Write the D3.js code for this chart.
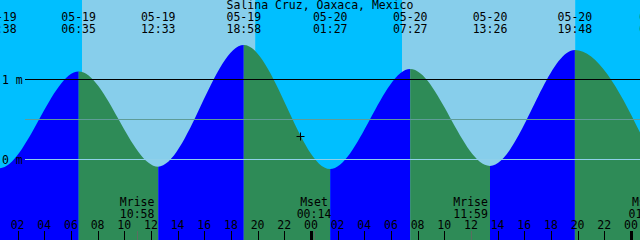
<!DOCTYPE html>
<html>
<head>
<meta charset="utf-8">
<script src="https://cdn.jsdelivr.net/npm/d3@7"></script>
<style>
  body { margin: 0; background: #fff; }
  svg { display: block; }
  text { font-family: "DejaVu Sans Mono", monospace; font-size: 11.5px; fill: #000; }
</style>
</head>
<body>
<div id="chart-area"></div>
<script>

// Data (first and last tide are just off the chart)

let stationName = "Salina Cruz, Oaxaca, Mexico";

let tideTimes = ["2024-05-18 18:20", "2024-05-19 00:38", "2024-05-19 06:35", "2024-05-19 12:33",
                 "2024-05-19 18:58", "2024-05-20 01:27", "2024-05-20 07:27", "2024-05-20 13:26",
                 "2024-05-20 19:48", "2024-05-21 01:55"];
let tideLevels = [1.40, -0.11, 1.10, -0.09, 1.43, -0.12, 1.13, -0.08, 1.37, -0.10];

let sunTimes = ["2024-05-19 06:50", "2024-05-19 19:49", "2024-05-20 06:50", "2024-05-20 19:49"]; // rise, set, rise, set

let moonTimes = ["2024-05-19 10:58", "2024-05-20 00:14", "2024-05-20 11:59", "2024-05-21 01:07"];
let moonNames = ["Mrise", "Mset", "Mrise", "Mset"];

let markLevels = [0, 0.5, 1];
let markLabels = ["0 m", "", "1 m"];

let nowTime = "2024-05-19 23:11";
let nowLevel = 0.30;

let startTime = "2024-05-19 00:41",
    endTime = "2024-05-21 00:41";


// SVG drawing area

let width = 640,
    height = 240;

let svg = d3.select("#chart-area").append("svg")
    .attr("width", width)
    .attr("height", height);

let parse = d3.timeParse("%Y-%m-%d %H:%M");
let fmtDate = d3.timeFormat("%m-%d"),
    fmtTime = d3.timeFormat("%H:%M"),
    fmtHour = d3.timeFormat("%H");

let tides = tideTimes.map((t, i) => ({time: parse(t), level: tideLevels[i]}));


// Scales

let x = d3.scaleTime()
    .domain([parse(startTime), parse(endTime)])
    .range([0, width]);

let y = d3.scaleLinear()
    .domain([0, 1])
    .range([159.5, 79.5]);


// Background: night / day bands

let sun = sunTimes.map(parse);
let bands = [];
let edges = [x.domain()[0], ...sun, x.domain()[1]];
for (let i = 0; i < edges.length - 1; i++) {
    bands.push({from: edges[i], to: edges[i + 1], day: i % 2 == 1});
}

svg.selectAll(".band")
    .data(bands)
  .enter().append("rect")
    .attr("class", "band")
    .attr("x", d => x(d.from))
    .attr("width", d => x(d.to) - x(d.from))
    .attr("y", 0)
    .attr("height", height)
    .attr("fill", d => d.day ? "#87ceeb" : "#00bfff");


// Water: area under the tide curve, coloured by rising / falling

let area = d3.area()
    .x(d => x(d.time))
    .y0(height)
    .y1(d => y(d.level))
    .curve(d3.curveMonotoneX);

svg.append("defs").append("clipPath")
    .attr("id", "water")
  .append("path")
    .attr("d", area(tides));

let segs = d3.pairs(tides);

svg.append("g")
    .attr("clip-path", "url(#water)")
  .selectAll("rect")
    .data(segs)
  .enter().append("rect")
    .attr("x", d => x(d[0].time))
    .attr("width", d => x(d[1].time) - x(d[0].time))
    .attr("y", 0)
    .attr("height", height)
    .attr("fill", d => d[1].level > d[0].level ? "#0000ff" : "#2e8b57");


// Level lines

let markColor = ["#8fd0ea", "#5e9c98", "#000"];

svg.selectAll(".mark")
    .data(markLevels)
  .enter().append("line")
    .attr("class", "mark")
    .attr("x1", 25)
    .attr("x2", width)
    .attr("y1", d => y(d))
    .attr("y2", d => y(d))
    .attr("stroke", (d, i) => markColor[i])
    .attr("stroke-width", 1);

svg.selectAll(".mark-label")
    .data(markLevels)
  .enter().append("text")
    .attr("class", "mark-label")
    .attr("x", 2)
    .attr("y", d => y(d) + 4)
    .text((d, i) => markLabels[i]);


// Title and tide event labels

svg.append("text")
    .attr("x", width / 2)
    .attr("y", 9)
    .attr("text-anchor", "middle")
    .text(stationName);

let shown = tides.filter(d => x(d.time) > -20 && x(d.time) < width + 20);

svg.selectAll(".tide-date")
    .data(shown)
  .enter().append("text")
    .attr("class", "tide-date")
    .attr("x", d => x(d.time))
    .attr("y", 21)
    .attr("text-anchor", "middle")
    .text(d => fmtDate(d.time));

svg.selectAll(".tide-time")
    .data(shown)
  .enter().append("text")
    .attr("class", "tide-time")
    .attr("x", d => x(d.time))
    .attr("y", 33)
    .attr("text-anchor", "middle")
    .text(d => fmtTime(d.time));


// Hour axis at the bottom

let hours = d3.timeHour.every(2).range(x.domain()[0], x.domain()[1]);

svg.selectAll(".hour-tick")
    .data(hours)
  .enter().append("line")
    .attr("class", "hour-tick")
    .attr("x1", d => Math.round(x(d)) + 0.5)
    .attr("x2", d => Math.round(x(d)) + 0.5)
    .attr("y1", 231)
    .attr("y2", height)
    .attr("stroke", "#000")
    .attr("stroke-width", d => d.getHours() == 0 ? 3 : 1);

svg.selectAll(".hour-label")
    .data(hours)
  .enter().append("text")
    .attr("class", "hour-label")
    .attr("x", d => x(d))
    .attr("y", 229)
    .attr("text-anchor", "middle")
    .text(d => fmtHour(d));


// Moon rise / set

let moon = moonTimes.map((t, i) => ({time: parse(t), name: moonNames[i]}));

svg.selectAll(".moon-tick")
    .data(moon)
  .enter().append("line")
    .attr("class", "moon-tick")
    .attr("x1", d => Math.round(x(d.time)) + 0.5)
    .attr("x2", d => Math.round(x(d.time)) + 0.5)
    .attr("y1", 231)
    .attr("y2", height)
    .attr("stroke", "#5a6e60")
    .attr("stroke-width", 1);

svg.selectAll(".moon-name")
    .data(moon)
  .enter().append("text")
    .attr("class", "moon-name")
    .attr("x", d => x(d.time))
    .attr("y", 206)
    .attr("text-anchor", "middle")
    .text(d => d.name);

svg.selectAll(".moon-time")
    .data(moon)
  .enter().append("text")
    .attr("class", "moon-time")
    .attr("x", d => x(d.time))
    .attr("y", 217.5)
    .attr("text-anchor", "middle")
    .text(d => fmtTime(d.time));


// Current time marker

let nx = Math.round(x(parse(nowTime))) + 0.5,
    ny = Math.round(y(nowLevel)) + 0.5;

svg.append("path")
    .attr("d", `M${nx - 4},${ny}H${nx + 4}M${nx},${ny - 4}V${ny + 4}`)
    .attr("stroke", "#000")
    .attr("stroke-width", 1)
    .attr("fill", "none");

</script>
</body>
</html>
